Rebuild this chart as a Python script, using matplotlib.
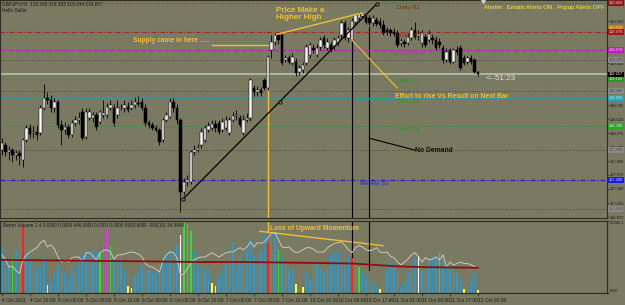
import numpy as np
import matplotlib
matplotlib.use('Agg')
import matplotlib.pyplot as plt

plt.rcParams['font.family'] = ['Liberation Sans', 'DejaVu Sans']

# GBPJPY H1 candles
opens = [117.99, 118.08, 117.96, 117.99, 117.91, 117.94, 117.82, 118.16, 118.36, 118.28,
         118.29, 118.28, 118.70, 118.86, 118.83, 118.70, 118.80, 118.41, 118.33, 118.38,
         118.24, 118.44, 118.49, 118.63, 118.21, 118.53, 118.53, 118.58, 118.46, 118.58,
         118.58, 118.70, 118.70, 118.58, 118.70, 118.70, 118.71, 118.70, 118.75, 118.78,
         118.80, 118.70, 118.44, 118.41, 118.36, 118.33, 118.16, 118.49, 118.54, 118.80,
         118.70, 118.49, 117.29, 117.45, 117.45, 117.96, 117.99, 118.08, 118.16, 118.33,
         118.36, 118.43, 118.44, 118.33, 118.36, 118.28, 118.49, 118.56, 118.53, 118.28,
         118.49, 118.53, 119.03, 118.96, 119.00, 119.16, 119.03, 119.67, 119.80, 119.92,
         119.92, 119.50, 119.53, 119.45, 119.47, 119.30, 119.33, 119.45, 119.58, 119.70,
         119.58, 119.72, 119.87, 119.70, 119.75, 119.73, 119.78, 119.92, 120.12, 119.87,
         119.83, 120.14, 120.20, 120.24, 120.22, 120.20, 120.12, 120.17, 120.14, 120.08,
         120.00, 120.00, 119.97, 119.95, 119.78, 119.80, 119.78, 119.87, 120.00, 119.90,
         119.78, 119.88, 119.83, 119.87, 119.83, 119.80, 119.70, 119.50, 119.67, 119.47,
         119.67, 119.70, 119.53, 119.47, 119.53, 119.50, 119.30]
highs = [118.19, 118.13, 118.06, 118.03, 117.99, 117.99, 118.19, 118.41, 118.43, 118.39,
         118.41, 118.75, 119.10, 118.96, 118.91, 118.86, 118.83, 118.49, 118.46, 118.43,
         118.49, 118.56, 118.63, 118.70, 118.70, 118.70, 118.63, 118.63, 118.66, 118.83,
         118.78, 118.83, 118.76, 118.83, 118.76, 118.83, 118.80, 118.83, 118.88, 118.90,
         118.86, 118.76, 118.49, 118.46, 118.41, 118.36, 118.53, 118.63, 118.86, 118.86,
         118.76, 118.53, 117.52, 117.57, 117.99, 118.08, 118.09, 118.36, 118.41, 118.46,
         118.49, 118.49, 118.49, 118.53, 118.56, 118.54, 118.63, 118.66, 118.58, 118.58,
         118.61, 119.20, 119.08, 119.06, 119.05, 119.20, 119.58, 119.92, 119.95, 119.93,
         119.95, 119.58, 119.58, 119.62, 119.53, 119.41, 119.47, 119.77, 119.80, 119.77,
         119.77, 119.88, 119.92, 119.87, 119.80, 119.88, 119.92, 120.17, 120.17, 120.05,
         120.20, 120.25, 120.30, 120.27, 120.27, 120.25, 120.25, 120.22, 120.20, 120.17,
         120.05, 120.03, 120.03, 120.00, 119.87, 119.85, 119.95, 120.05, 120.14, 120.00,
         120.00, 119.93, 120.00, 119.93, 119.90, 119.87, 119.75, 119.70, 119.70, 119.70,
         119.73, 119.75, 119.58, 119.57, 119.58, 119.53, 119.31]
lows = [117.91, 117.89, 117.82, 117.79, 117.82, 117.74, 117.71, 118.13, 118.19, 118.19,
        118.16, 118.24, 118.66, 118.76, 118.63, 118.63, 118.36, 118.08, 118.26, 118.19,
        118.21, 118.39, 118.43, 118.16, 118.18, 118.49, 118.46, 118.33, 118.43, 118.53,
        118.53, 118.66, 118.39, 118.53, 118.66, 118.63, 118.63, 118.66, 118.70, 118.73,
        118.66, 118.39, 118.36, 118.33, 118.29, 118.08, 118.13, 118.46, 118.53, 118.63,
        118.43, 116.95, 117.24, 117.39, 117.42, 117.91, 117.96, 118.03, 118.13, 118.29,
        118.33, 118.29, 118.26, 118.29, 118.33, 118.24, 118.46, 118.49, 118.38, 118.24,
        118.46, 118.48, 118.90, 118.90, 118.90, 119.00, 119.00, 119.53, 119.75, 119.77,
        119.41, 119.47, 119.43, 119.41, 119.23, 119.25, 119.28, 119.41, 119.53, 119.62,
        119.55, 119.67, 119.70, 119.67, 119.63, 119.67, 119.73, 119.87, 119.83, 119.80,
        119.80, 120.08, 120.17, 120.20, 120.10, 120.08, 120.07, 120.07, 120.03, 119.92,
        119.92, 119.90, 119.90, 119.72, 119.73, 119.72, 119.75, 119.83, 119.85, 119.83,
        119.72, 119.72, 119.80, 119.77, 119.67, 119.70, 119.45, 119.47, 119.43, 119.45,
        119.58, 119.33, 119.41, 119.43, 119.43, 119.28, 119.23]
closes = [118.11, 117.96, 117.99, 117.91, 117.94, 117.89, 118.16, 118.36, 118.26, 118.29,
          118.24, 118.70, 118.86, 118.83, 118.70, 118.80, 118.41, 118.33, 118.38, 118.24,
          118.44, 118.49, 118.53, 118.19, 118.63, 118.63, 118.58, 118.38, 118.63, 118.61,
          118.71, 118.75, 118.44, 118.70, 118.71, 118.75, 118.66, 118.75, 118.80, 118.76,
          118.70, 118.44, 118.41, 118.36, 118.33, 118.13, 118.49, 118.58, 118.80, 118.70,
          118.49, 117.29, 117.45, 117.49, 117.96, 117.99, 118.03, 118.29, 118.36, 118.39,
          118.43, 118.36, 118.29, 118.46, 118.49, 118.49, 118.56, 118.58, 118.41, 118.49,
          118.53, 119.16, 118.96, 119.00, 118.95, 119.03, 119.55, 119.80, 119.92, 119.83,
          119.45, 119.53, 119.47, 119.55, 119.28, 119.36, 119.41, 119.72, 119.75, 119.67,
          119.70, 119.83, 119.75, 119.80, 119.67, 119.83, 119.87, 120.12, 119.87, 120.00,
          120.15, 120.25, 120.27, 120.27, 120.14, 120.12, 120.20, 120.10, 120.08, 119.95,
          119.97, 119.95, 119.93, 119.75, 119.82, 119.77, 119.88, 120.00, 119.88, 119.93,
          119.95, 119.75, 119.93, 119.83, 119.70, 119.75, 119.50, 119.63, 119.47, 119.67,
          119.63, 119.36, 119.45, 119.53, 119.47, 119.30, 119.257]

# Better Volume histogram + colour class per bar
volumes = [12720, 10690, 8670, 9830, 12140, 13870, 18790, 11560, 8670, 8670,
           6940, 7800, 9830, 2310, 3470, 5780, 7800, 6360, 5780, 4910,
           6940, 8670, 9250, 10690, 11560, 10400, 12140, 11560, 11560, 14160,
           17920, 13290, 9830, 8670, 8670, 6360, 2020, 1450, 4910, 6360,
           7800, 8670, 6360, 5780, 5780, 8670, 8670, 10690, 12140, 11560,
           13580, 16180, 19940, 19360, 17340, 12140, 7800, 9250, 6940, 6360,
           2890, 2020, 4910, 6360, 8670, 12140, 14450, 7800, 9830, 8670,
           12140, 15030, 10690, 9250, 12140, 16470, 14160, 17340, 17050, 12140,
           9830, 7800, 6940, 6360, 2600, 5780, 1730, 5780, 4050, 7800,
           8670, 6940, 5780, 6940, 10690, 11560, 12140, 9250, 7800, 10120,
           10120, 8670, 7230, 5780, 4910, 4340, 2890, 2020, 1160, 3470,
           6360, 8670, 7800, 5780, 2020, 3470, 5780, 7230, 9830, 10400,
           6360, 7800, 8670, 9830, 10400, 11270, 8380, 7230, 7230, 6360,
           5490, 4050, 1160, 2020, 3470, 5780, 870]
vol_class = ("bbbgbbrbbb" "bbbybbbbbb" "bbbbbbbbgb" "mgbbbbyybb" "bbbbbbbbbb"
             "bwgggbbbbb" "yybbbbbbbb" "bbbbbbrbbg" "bbbbybybbb" "bbbbbbbbbb"
             "rbgbbbbbyb" "bbbbbbbbbw" "bbbbbgbbbb" "bbybbby")

rsi = [53, 46, 36, 37, 31, 27, 46, 53, 57, 60,
       63, 70, 73, 64, 67, 61, 50, 43, 46, 43,
       49, 50, 50, 43, 56, 56, 51, 46, 56, 59,
       60, 57, 47, 53, 53, 54, 56, 57, 56, 54,
       50, 41, 37, 36, 33, 29, 46, 53, 57, 56,
       49, 24, 27, 34, 43, 46, 49, 50, 50, 53,
       56, 53, 50, 53, 56, 57, 57, 60, 63, 60,
       64, 71, 64, 70, 69, 71, 77, 83, 84, 74,
       64, 63, 64, 59, 56, 57, 60, 63, 63, 61,
       57, 57, 57, 63, 66, 69, 70, 71, 66, 60,
       56, 63, 66, 64, 60, 59, 60, 63, 57, 56,
       57, 51, 49, 43, 39, 43, 47, 53, 56, 50,
       43, 49, 46, 47, 50, 46, 53, 36, 43, 39,
       41, 43, 41, 41, 39, 37, 34.56]
ma_idx = [0, 20, 40, 57, 70, 85, 100, 113, 120, 136]
ma_val = [46, 45, 44, 43, 43, 42, 41, 37, 36, 35]

# pivot / object lines
level_names = ['Daily R2', 'R2 top', 'Daily R1', 'Daily Pivot', 'obj1', 'Daily S1', 'obj2',
               'Weekly Pivot', 'Daily S3', 'obj3', 'Weekly S1', 'obj4']
level_prices = [120.45, 120.03, 119.97, 119.67, 119.50, 119.18, 118.98,
                118.86, 118.39, 117.99, 117.49, 117.00]
bid = 119.257

price_ticks = [120.150, 119.445, 118.745, 118.510, 118.275, 118.040,
               117.805, 117.575, 117.340, 117.105, 116.870]
time_labels = ['4 Oct 2011', '4 Oct 16:00', '5 Oct 00:00', '5 Oct 08:00', '5 Oct 16:00',
               '6 Oct 00:00', '6 Oct 08:00', '6 Oct 16:00', '7 Oct 00:00', '7 Oct 08:00',
               '7 Oct 16:00', '10 Oct 01:00', '10 Oct 09:00', '10 Oct 17:00', '11 Oct 01:00',
               '11 Oct 09:00', '11 Oct 17:00', '12 Oct 01:00']

# ---------------------------------------------------------------
W, H = 625, 305
BG = '#7a7961'
GOLD = '#f0c030'
FRAME = '#2e2e24'

fig = plt.figure(figsize=(W / 100, H / 100), dpi=100, facecolor=BG)


def rect(x0, y0, x1, y1):
    return [x0 / W, 1 - y1 / H, (x1 - x0) / W, (y1 - y0) / H]


def ftext(x, y, s, **kw):
    fig.text(x / W, 1 - y / H, s, va='center', ha='left', **kw)


ax = fig.add_axes(rect(0, 0, 607, 218), facecolor=BG)
axv = fig.add_axes(rect(0, 221, 607, 293), facecolor=BG, sharex=ax)
axr = axv.twinx()  # RSI overlay; note twinx puts axv ticks back on the left

n = len(closes)
idx = np.arange(n)
o, h, l, c = (np.array(a) for a in (opens, highs, lows, closes))
ax.set_xlim(-0.57, 172.86)
ax.set_ylim(116.854, 120.503)

# level lines
styles = {
    'Daily R2': ('#8a4a20', (0, (1, 1.5)), 0.8),
    'Daily R1': ('#b02020', (0, (4, 1.5, 1, 1.5)), 0.8),
    'Daily Pivot': ('#c020c0', (0, (5, 2)), 0.8),
    'Daily S1': ('#2a9a2a', (0, (1, 1.5)), 0.8),
    'Weekly Pivot': ('#20a0a0', (0, (4, 2)), 0.8),
    'Daily S3': ('#2a9a2a', (0, (1, 1.5)), 0.8),
    'Weekly S1': ('#2020d0', (0, (4, 1.5, 1, 1.5)), 0.9),
}
box_colors = {'Daily R2': '#8b1a1a', 'R2 top': '#e07000', 'Daily R1': '#a01818',
              'Daily Pivot': '#c020c0', 'Daily S1': '#20a020', 'Weekly Pivot': '#20a8b8',
              'Daily S3': '#20b020', 'Weekly S1': '#1a1af0'}
for name, p in zip(level_names, level_prices):
    if name == 'R2 top':
        pass
    elif name in styles:
        col, ls, lw = styles[name]
        ax.axhline(p, color=col, ls=ls, lw=lw, zorder=1)
    else:
        ax.axhline(p, color='#4e4e40', ls=(0, (1, 1.5)), lw=0.7, zorder=1)
    bc = box_colors.get(name, '#8a8a88')
    ax.text(1.0025, p, f'{p:.3f}', transform=ax.get_yaxis_transform(), fontsize=2.9,
            color='#dcdcdc' if name in box_colors else '#505050', va='center', ha='left',
            bbox=dict(boxstyle='square,pad=0.2', fc=bc, ec='none'), clip_on=False, zorder=6)

ax.axhline(bid, color='#b8b8b0', lw=1.3, zorder=1)
ax.text(1.0025, bid, f'{bid:.3f}', transform=ax.get_yaxis_transform(), fontsize=2.9,
        color='white', va='center', ha='left',
        bbox=dict(boxstyle='square,pad=0.2', fc='black', ec='none'), clip_on=False, zorder=7)

# level captions
lab_col = {'Daily R2': '#8b2a1a', 'Daily R1': '#8b2a1a', 'Daily Pivot': '#a040a0',
           'Daily S1': '#2a9a2a', 'Weekly Pivot': '#20a0a0', 'Daily S3': '#2a9a2a',
           'Weekly S1': '#2020d0'}
lab_pos = {'Daily R2': (397, 7), 'Daily R1': (397, 35), 'Daily Pivot': (395, 53),
           'Daily S1': (397, 82), 'Weekly Pivot': (357, 100), 'Daily S3': (397, 129),
           'Weekly S1': (360, 183)}
for name, (x, y) in lab_pos.items():
    ftext(x, y, name, fontsize=4.3, color=lab_col[name])
ftext(397, 101, 'Daily S2', fontsize=4.3, color='#2a9a2a')

# candles
ax.vlines(idx, l, h, color='black', lw=0.6, zorder=3)
up = c >= o
lo_b = np.minimum(o, c)
ht_b = np.maximum(np.abs(c - o), 0.012)
ax.bar(idx[up], ht_b[up], bottom=lo_b[up], width=0.62, color='white',
       edgecolor='black', lw=0.35, zorder=4)
ax.bar(idx[~up], ht_b[~up], bottom=lo_b[~up], width=0.62, color='black',
       edgecolor='black', lw=0.35, zorder=4)

# annotations on price pane
ax.plot([51.7, 107.1], [117.17, 120.44], color='black', lw=0.9, zorder=5)
ax.plot([51.7, 79.4, 107.1], [117.17, 118.80, 120.44], ls='none', marker='o', ms=2.4,
        mfc=BG, mec='black', mew=0.6, zorder=5)
ax.plot([60, 76], [119.75, 119.75], color=GOLD, lw=1.0, zorder=5)
ax.plot([78.6, 103.1], [119.93, 120.29], color=GOLD, lw=1.0, zorder=5)
ax.plot([100, 112.9], [119.83, 119.03], color=GOLD, lw=0.8, zorder=5)
ax.plot([104.9, 118], [118.19, 117.99], color='black', lw=0.8, zorder=5)
ax.plot([76, 76], [119.03, 116.854], color=GOLD, lw=1.0, zorder=2)
ax.plot([100, 100], [119.83, 116.854], color='black', lw=0.8, zorder=2)
ax.plot([105, 105], [120.05, 116.854], color='black', lw=0.8, zorder=2)
ax.plot([137.4], [120.49], marker='v', ms=3, color='#d0d0d0', clip_on=False, zorder=6)

ftext(133, 41, 'Supply came in here .....', fontsize=4.8, fontweight='bold', color=GOLD)
ftext(276, 14, 'Price Make a\nHigher High', fontsize=5.8, fontweight='bold', color=GOLD,
      linespacing=1.1)
ftext(395, 96, 'Effort to rise Vs Result on Next Bar', fontsize=4.9, fontweight='bold',
      color=GOLD)
ftext(415, 150, 'No Demand', fontsize=4.9, fontweight='bold', color='#111111')
ftext(486, 79, '<--51:23', fontsize=5.8, color='#e4e4e4')
ftext(484, 7, 'Alerter:  Emails Alerts ON.  Popup Alerts OFF', fontsize=4.3, color='#f4f030')
ftext(2, 4, 'GBPJPY,H1  119.293 119.293 119.244 119.257', fontsize=3.4, color='#1a1a1a')
ftext(2, 11, 'Hello Sailor', fontsize=3.4, color='#1a1a1a')

# price axis
ax.yaxis.tick_right()
ax.set_yticks(price_ticks)
ax.set_yticklabels([f'{t:.3f}' for t in price_ticks])
ax.tick_params(axis='y', labelsize=3.0, length=1.5, width=0.5, pad=0.8, colors='#1a1a1a')
ax.tick_params(axis='x', bottom=False, labelbottom=False)

# volume pane
vcol = {'b': '#1e9cdc', 'r': '#ff2020', 'g': '#30e030', 'm': '#ff20ff',
        'y': '#ffff30', 'w': '#ffffff'}
axv.bar(idx, volumes, width=0.5, color=[vcol[k] for k in vol_class], zorder=2)
axv.set_ylim(0, 20246.1)
axv.plot([73.7, 108.9], [17350, 13300], color=GOLD, lw=1.0, zorder=5)
axv.plot([76, 76], [17060, 20246.1], color=GOLD, lw=1.0, zorder=5)
axv.plot([100, 100], [10120, 20246.1], color='black', lw=0.8, zorder=5)
axv.plot([105, 105], [6360, 20246.1], color='black', lw=0.8, zorder=5)
axv.set_xticks(np.arange(0, n, 8))
axv.set_xticklabels(time_labels)
axv.tick_params(axis='x', labelsize=3.5, length=2, width=0.5, pad=1.5, colors='#1a1a1a')
for t in axv.get_xticklabels():
    t.set_ha('left')

axr.set_ylim(0, 100)
axr.plot(idx, rsi, color='#c8c8c0', lw=0.7, zorder=3)
axr.plot(ma_idx, ma_val, color='#8b1010', lw=1.3, zorder=3)
axr.set_yticks([])

# volume scale on the right (after twinx)
axv.yaxis.tick_right()
axv.set_yticks([0, 20246.1])
axv.set_yticklabels(['0.00', '20246.1'])
axv.tick_params(axis='y', left=False, labelleft=False, right=True, labelright=True,
                labelsize=3.0, length=1.5, width=0.5, pad=0.8, colors='#1a1a1a')
for t in axv.get_yticklabels():
    t.set_va('top' if t.get_text() == '20246.1' else 'bottom')

ftext(3, 225, 'Better Volume 1.4 0.0000 0.0000 646.0000 0.0000 0.0000 5593.0000  '
      'RSI(10) 34.5640', fontsize=3.4, color='#1a1a1a')
ftext(270, 228, 'Loss of Upward Momentum', fontsize=4.9, fontweight='bold', color=GOLD)

for a in (ax, axv, axr):
    for s in a.spines.values():
        s.set_color(FRAME)
        s.set_linewidth(0.8)

fig.savefig('out.png', dpi=100, facecolor=BG)
